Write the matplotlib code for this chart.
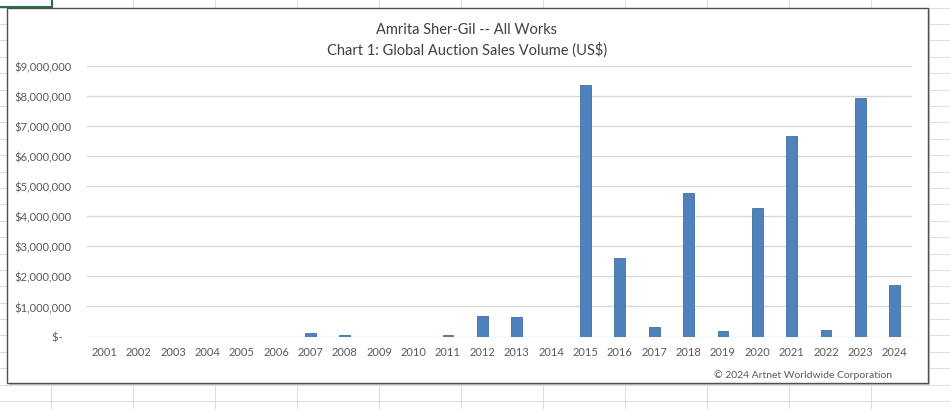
import matplotlib.pyplot as plt
from matplotlib.lines import Line2D
from matplotlib.patches import Rectangle
from matplotlib.ticker import FuncFormatter

years = [str(y) for y in range(2001, 2025)]
sales = [0, 0, 0, 0, 0, 0, 100000, 50000, 0, 0, 50000, 680000, 640000, 0,
         8360000, 2600000, 300000, 4750000, 190000, 4270000, 6660000, 220000,
         7920000, 1720000]

title = "Amrita Sher-Gil -- All Works\nChart 1: Global Auction Sales Volume (US$)"
credit = "\u00a9 2024 Artnet Worldwide Corporation"

W, H = 950, 410
plt.rcParams['font.family'] = ['Lato', 'DejaVu Sans']
txt = '#595959'


def fx(px):
    return px / W


def fy(py):
    return 1 - py / H


fig = plt.figure(figsize=(9.5, 4.1), dpi=100)
fig.patch.set_facecolor('white')

# spreadsheet cells behind the chart
x = 51
while x < W:
    fig.add_artist(Line2D([fx(x), fx(x)], [0, 1], color='#dedede', lw=0.8, zorder=0))
    x += 82
y = 8.5
while y < H:
    fig.add_artist(Line2D([0, 1], [fy(y), fy(y)], color='#dedede', lw=0.8, zorder=0))
    y += 16.4
fig.add_artist(Line2D([fx(52), fx(52)], [fy(0), fy(9)], color='#217346', lw=1.5, zorder=1))
fig.add_artist(Line2D([0, fx(52)], [fy(8), fy(8)], color='#217346', lw=1.5, zorder=1))

# chart box
fig.add_artist(Rectangle((fx(9), fy(386)), fx(921), 377 / H, facecolor='#c8c8c8',
                         edgecolor='none', zorder=1))
fig.add_artist(Rectangle((fx(7), fy(384)), fx(921), 375 / H, facecolor='white',
                         edgecolor='#505050', lw=1, zorder=2))

ax = fig.add_axes([fx(87), fy(337.5), fx(912 - 87), (337.5 - 66.5) / H])
ax.set_zorder(3)
ax.patch.set_alpha(0)
ax.bar(range(len(years)), sales, width=0.31, color='#4f81bd', edgecolor='#41719c',
       linewidth=0.6, zorder=3)
ax.set_xlim(-0.5, len(years) - 0.5)
ax.set_ylim(0, 9000000)
ax.set_yticks(range(0, 9000001, 1000000))
ax.yaxis.set_major_formatter(FuncFormatter(lambda v, p: "$-   " if v == 0 else f"${v:,.0f}"))
ax.set_xticks(range(len(years)))
ax.set_xticklabels(years)
ax.grid(axis='y', color='#d9d9d9', lw=1, zorder=0)
ax.set_axisbelow(True)
for s in ax.spines.values():
    s.set_visible(False)
ax.tick_params(axis='y', length=0, pad=11, labelsize=8, labelcolor=txt)
ax.tick_params(axis='x', length=0, pad=7, labelsize=8, labelcolor=txt)

fig.text(fx(467), fy(40), title, ha='center', va='center', fontsize=10.5,
         color='#404040', linespacing=1.45, zorder=4)
fig.text(fx(892), fy(375), credit, ha='right', va='center', fontsize=7.5,
         color=txt, zorder=4)

fig.savefig('out.png', dpi=100)
